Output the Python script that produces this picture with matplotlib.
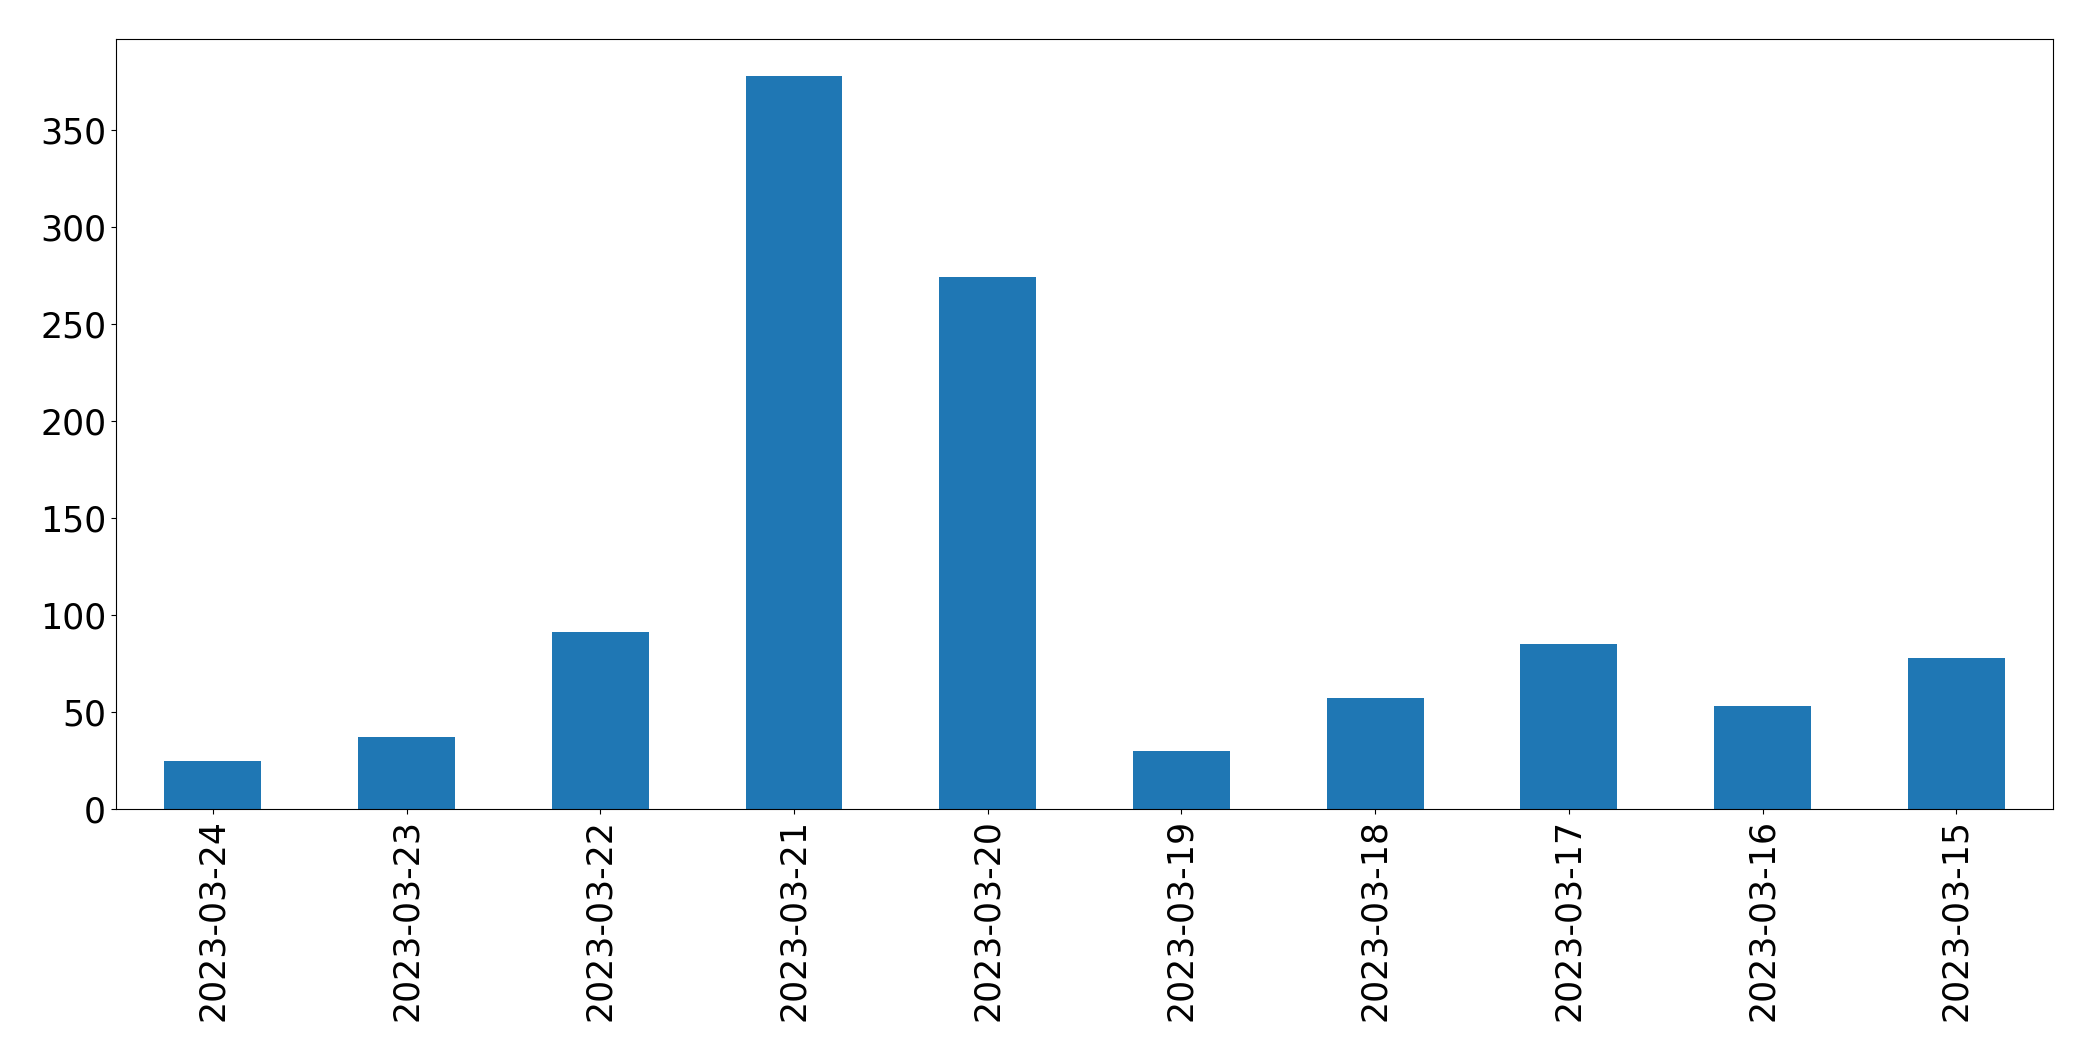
import matplotlib
matplotlib.use("Agg")
import matplotlib.pyplot as plt
import numpy as np

dates = ["2023-03-24", "2023-03-23", "2023-03-22", "2023-03-21", "2023-03-20",
         "2023-03-19", "2023-03-18", "2023-03-17", "2023-03-16", "2023-03-15"]
counts = [25, 37, 91, 378, 274, 30, 57, 85, 53, 78]

fig = plt.figure(figsize=(20.93, 10.61), dpi=100)
ax = fig.add_subplot(111)
fig.subplots_adjust(left=0.0554, right=0.981, top=0.9632, bottom=0.2375)

x = np.arange(len(dates))
ax.bar(x, counts, width=0.5, color="#1f77b4")
ax.set_xlim(-0.5, len(dates) - 0.5)
ax.set_xticks(x)
ax.set_xticklabels(dates, rotation=90)
ax.tick_params(labelsize=25)

fig.savefig("out.png", dpi=100)
